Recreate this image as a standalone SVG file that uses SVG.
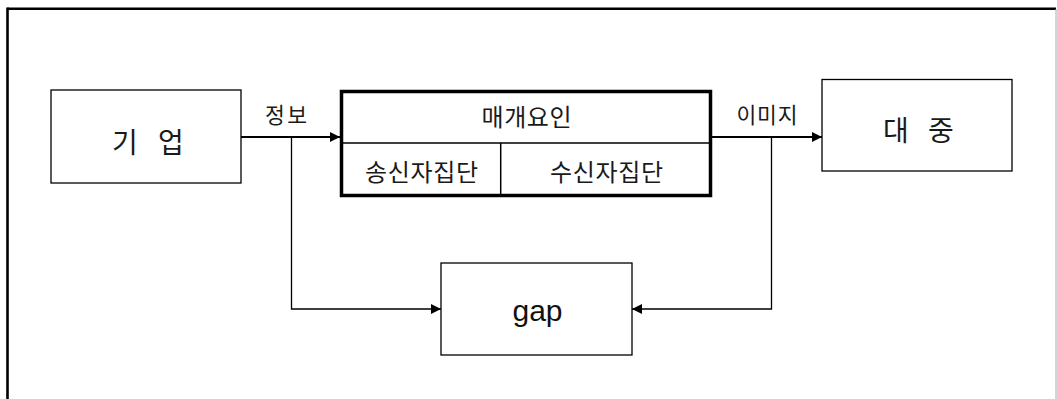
<svg xmlns="http://www.w3.org/2000/svg" width="1057" height="399" viewBox="0 0 1057 399">
<style>
.box{fill:#fff;stroke:#000;stroke-width:1.3}
.thick{fill:#fff;stroke:#000;stroke-width:3.5}
.kr{font-family:"Noto Sans CJK KR","Noto Sans",sans-serif;fill:#1a1a1a;text-anchor:middle}
.en{font-family:"Liberation Sans",Arial,sans-serif;fill:#111;text-anchor:middle}
.conn{fill:none;stroke:#000}
</style>
<defs>
<marker id="ah" viewBox="0 0 10 10" refX="10" refY="5" markerWidth="10" markerHeight="10" markerUnits="userSpaceOnUse" orient="auto">
<path d="M0,0 L10,5 L0,10 z" fill="#000"/>
</marker>
</defs>
<rect width="1057" height="399" fill="#fff"/>
<g id="frame">
<line x1="7.5" y1="8.7" x2="1056" y2="8.7" stroke="#000" stroke-width="2.6"/>
<line x1="7.5" y1="7.5" x2="7.5" y2="399" stroke="#000" stroke-width="2.6"/>
<line x1="1056" y1="9" x2="1056" y2="399" stroke="#aaa" stroke-width="1"/>
</g>
<g id="connectors">
<line class="conn" x1="241" y1="137" x2="340" y2="137" stroke-width="2" marker-end="url(#ah)"/>
<line class="conn" x1="712" y1="137" x2="822" y2="137" stroke-width="2" marker-end="url(#ah)"/>
<polyline class="conn" points="291.5,137 291.5,309 441,309" stroke-width="1.3" marker-end="url(#ah)"/>
<polyline class="conn" points="771.5,137 771.5,309 632,309" stroke-width="1.3" marker-end="url(#ah)"/>
<text class="kr" x="286" y="123" font-size="21.5" textLength="42">정보</text>
<text class="kr" x="767" y="123" font-size="21.5" textLength="61">이미지</text>
</g>
<g id="node-company">
<rect class="box" x="51" y="90" width="190" height="93"/>
<text class="kr" y="153" font-size="28"><tspan x="125">기</tspan><tspan x="171">업</tspan></text>
</g>
<g id="node-media">
<rect class="thick" x="341.5" y="91.5" width="369" height="104"/>
<line x1="341.5" y1="143" x2="710.5" y2="143" stroke="#000" stroke-width="1.5"/>
<line x1="500.7" y1="143" x2="500.7" y2="195.5" stroke="#000" stroke-width="1.5"/>
<text class="kr" x="526.5" y="126" font-size="24" textLength="90">매개요인</text>
<text class="kr" x="421.5" y="181" font-size="24" textLength="113">송신자집단</text>
<text class="kr" x="606.5" y="181" font-size="24" textLength="113">수신자집단</text>
</g>
<g id="node-public">
<rect class="box" x="822" y="79.5" width="190" height="91.5"/>
<text class="kr" y="141" font-size="28"><tspan x="896">대</tspan><tspan x="941">중</tspan></text>
</g>
<g id="node-gap">
<rect class="box" x="441" y="263" width="191" height="92"/>
<text class="en" x="537.5" y="321" font-size="30">gap</text>
</g>
</svg>
